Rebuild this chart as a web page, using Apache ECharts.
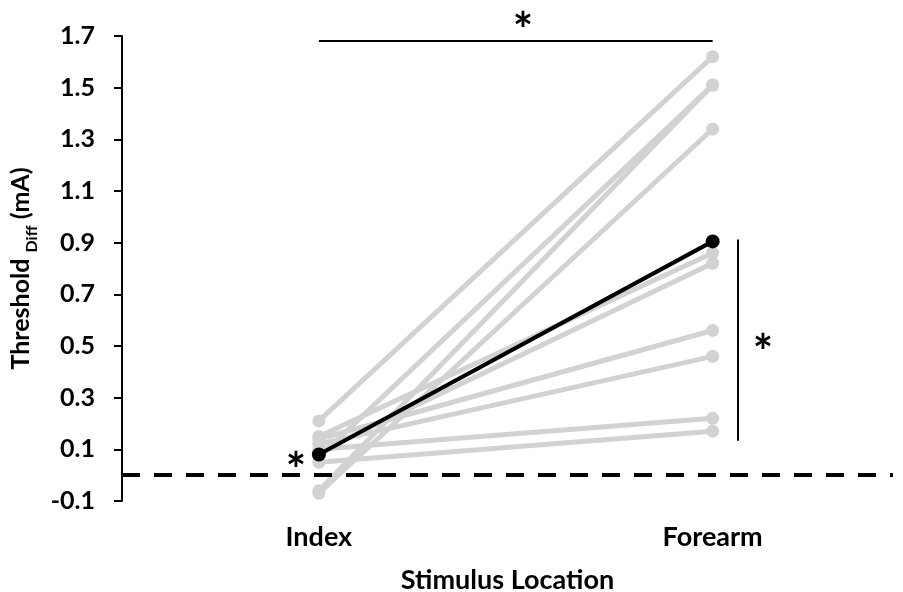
<!DOCTYPE html>
<html>
<head>
<meta charset="utf-8">
<script src="https://cdn.jsdelivr.net/npm/echarts@6/dist/echarts.min.js"></script>
<style>html,body{margin:0;padding:0;background:#fff;}#c{width:903px;height:592px;}</style>
</head>
<body>
<div id="c"></div>
<script>
var categories = ['Index', 'Forearm'];
var indexValues = [0.21, 0.15, 0.14, 0.12, 0.10, 0.09, 0.07, 0.05, -0.06, -0.07];
var forearmValues = [1.62, 0.86, 0.56, 0.46, 0.22, 0.82, 1.51, 0.17, 1.51, 1.34];
var meanValues = [0.08, 0.905];
var yTicks = [-0.1, 0.1, 0.3, 0.5, 0.7, 0.9, 1.1, 1.3, 1.5, 1.7];
var xTicks = [0, 1];

var FONT = 'Lato';
var chart = echarts.init(document.getElementById('c'), null, {renderer: 'canvas'});

var starLabel = {show: true, formatter: '*', color: '#000', fontFamily: FONT, fontWeight: 'bold', fontSize: 48, offset: [0, 12]};
var series = [];
for (var i = 0; i < indexValues.length; i++) {
  series.push({
    type: 'line',
    data: [[xTicks[0], indexValues[i]], [xTicks[1], forearmValues[i]]],
    symbol: 'circle', symbolSize: 13,
    lineStyle: {color: '#d2d2d2', width: 5},
    itemStyle: {color: '#d2d2d2'},
    z: 2, silent: true
  });
}
series.push({
  type: 'line',
  data: [[xTicks[0], meanValues[0]], [xTicks[1], meanValues[1]]],
  symbol: 'circle', symbolSize: 14,
  lineStyle: {color: '#000', width: 4},
  itemStyle: {color: '#000'},
  z: 5, silent: true,
  markLine: {
    silent: true, symbol: ['none', 'none'], label: {show: false},
    data: [
      [{coord: [0, 1.68]}, {coord: [1, 1.68]}],
      [{coord: [1.064, 0.912]}, {coord: [1.064, 0.133]}]
    ],
    lineStyle: {color: '#000', width: 2, type: 'solid'}
  },
  markPoint: {
    silent: true, symbol: 'circle', symbolSize: 1, itemStyle: {color: 'rgba(0,0,0,0)'},
    label: starLabel,
    data: [
      {coord: [0.518, 1.7], label: {offset: [0, -4]}},
      {coord: [1.128, 0.517]},
      {coord: [-0.058, 0.059]}
    ]
  }
});
series.push({
  type: 'line', data: [], z: 1, silent: true,
  markLine: {
    silent: true, symbol: ['none', 'none'], label: {show: false},
    data: [{yAxis: 0}],
    lineStyle: {color: '#000', width: 4, type: [18, 14]}
  }
});

chart.setOption({
  animation: false,
  backgroundColor: '#fff',
  grid: {left: 122, right: 10, top: 36, bottom: 91, containLabel: false, outerBoundsMode: 'none'},
  xAxis: {
    type: 'value', min: -0.5, max: 1.458,
    axisLine: {show: false}, axisTick: {show: false}, splitLine: {show: false},
    axisLabel: {
      customValues: xTicks,
      formatter: function (v) { return categories[Math.round(v)] || ''; },
      color: '#000', fontFamily: FONT, fontWeight: 'bold', fontSize: 27, margin: 23
    },
    name: 'Stimulus Location', nameLocation: 'middle', nameGap: 66,
    nameTextStyle: {color: '#000', fontFamily: FONT, fontWeight: 'bold', fontSize: 27}
  },
  yAxis: {
    type: 'value', min: -0.1, max: 1.7,
    axisLine: {show: true, onZero: false, lineStyle: {color: '#000', width: 2}},
    axisTick: {show: true, customValues: yTicks, length: 8, lineStyle: {color: '#000', width: 2}},
    splitLine: {show: false},
    axisLabel: {
      customValues: yTicks,
      formatter: function (v) { return v.toFixed(1); },
      color: '#000', fontFamily: FONT, fontWeight: 'bold', fontSize: 25, margin: 27
    },
    name: '{a|Threshold }{b|Diff}{a| (mA)}', nameLocation: 'middle', nameGap: 82,
    nameTextStyle: {
      color: '#000', fontFamily: FONT, fontWeight: 'bold', fontSize: 25,
      rich: {
        a: {color: '#000', fontFamily: FONT, fontWeight: 'bold', fontSize: 25, lineHeight: 30},
        b: {color: '#000', fontFamily: FONT, fontWeight: 'bold', fontSize: 16, lineHeight: 30, verticalAlign: 'bottom', padding: [0, 0, -4, 0]}
      }
    }
  },
  series: series
});
</script>
</body>
</html>
